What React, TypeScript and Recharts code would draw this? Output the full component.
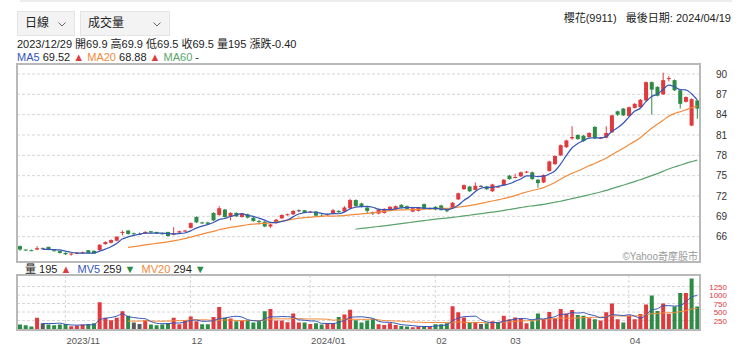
import { ComposedChart, Bar, Line, XAxis, YAxis, CartesianGrid, Cell } from "recharts"

// trading days shown (2023/10/20 .. 2024/04/19)
const DATES = (
  "2023/10/20 2023/10/23 2023/10/24 2023/10/25 2023/10/26 2023/10/27 2023/10/30 2023/10/31 " +
  "2023/11/01 2023/11/02 2023/11/03 2023/11/06 2023/11/07 2023/11/08 2023/11/09 2023/11/10 2023/11/13 2023/11/14 2023/11/15 " +
  "2023/11/16 2023/11/17 2023/11/20 2023/11/21 2023/11/22 2023/11/23 2023/11/24 2023/11/27 2023/11/28 2023/11/29 2023/11/30 " +
  "2023/12/01 2023/12/04 2023/12/05 2023/12/06 2023/12/07 2023/12/08 2023/12/11 2023/12/12 2023/12/13 2023/12/14 2023/12/15 " +
  "2023/12/18 2023/12/19 2023/12/20 2023/12/21 2023/12/22 2023/12/25 2023/12/26 2023/12/27 2023/12/28 2023/12/29 " +
  "2024/01/02 2024/01/03 2024/01/04 2024/01/05 2024/01/08 2024/01/09 2024/01/10 2024/01/11 2024/01/12 2024/01/15 2024/01/16 " +
  "2024/01/17 2024/01/18 2024/01/19 2024/01/22 2024/01/23 2024/01/24 2024/01/25 2024/01/26 2024/01/29 2024/01/30 2024/01/31 " +
  "2024/02/01 2024/02/02 2024/02/05 2024/02/15 2024/02/16 2024/02/19 2024/02/20 2024/02/21 2024/02/22 2024/02/23 2024/02/26 " +
  "2024/02/27 2024/02/29 " +
  "2024/03/01 2024/03/04 2024/03/05 2024/03/06 2024/03/07 2024/03/08 2024/03/11 2024/03/12 2024/03/13 2024/03/14 2024/03/15 " +
  "2024/03/18 2024/03/19 2024/03/20 2024/03/21 2024/03/22 2024/03/25 2024/03/26 2024/03/27 2024/03/28 2024/03/29 " +
  "2024/04/01 2024/04/02 2024/04/03 2024/04/08 2024/04/09 2024/04/10 2024/04/11 2024/04/12 2024/04/15 2024/04/16 2024/04/17 " +
  "2024/04/18 2024/04/19"
).split(" ")

const OPEN = [
  64.6, 64.1, 64.0, 64.1, 64.3, 64.5, 64.0, 63.9, 63.6, 63.4, 63.5, 63.6, 64.0, 63.9, 64.0, 64.9, 65.1, 65.4, 66.6, 66.9,
  66.5, 66.4, 66.5, 66.8, 66.7, 66.5, 66.7, 66.3, 66.6, 66.8, 67.3, 68.9, 68.1, 68.1, 69.5, 69.2, 70.0, 68.9, 69.5, 68.9,
  69.3, 68.8, 68.3, 68.2, 67.5, 68.0, 68.7, 69.2, 69.3, 69.9, 69.9, 69.6, 69.7, 69.1, 69.2, 69.4, 69.8, 69.7, 70.2, 71.4,
  70.9, 70.3, 69.6, 69.4, 69.5, 69.9, 70.0, 70.7, 70.5, 69.7, 69.8, 70.8, 70.2, 70.4, 70.6, 69.9, 70.2, 71.5, 73.0, 73.4,
  72.9, 73.5, 73.4, 72.7, 73.3, 73.6, 75.0, 74.7, 74.9, 75.5, 75.5, 74.4, 74.0, 75.7, 76.7, 78.0, 79.2, 80.5, 81.0, 80.9,
  80.7, 82.2, 80.5, 80.6, 81.4, 84.5, 84.9, 83.8, 85.0, 85.1, 86.1, 88.8, 88.1, 87.0, 89.3, 89.1, 87.6, 85.9, 82.4, 86.1,
]
const HIGH = [
  64.7, 64.1, 64.1, 64.6, 64.4, 64.5, 64.0, 63.9, 63.7, 63.6, 63.7, 63.8, 64.0, 64.0, 64.9, 65.3, 65.6, 66.0, 66.9, 67.0,
  66.6, 66.6, 66.8, 66.8, 66.7, 66.6, 66.7, 67.4, 66.9, 67.0, 68.1, 69.0, 68.2, 68.2, 69.6, 70.5, 70.1, 69.6, 69.6, 69.5,
  69.4, 68.9, 68.5, 68.3, 67.9, 68.6, 69.3, 69.4, 69.9, 70.0, 69.9, 69.8, 69.8, 69.4, 69.4, 70.1, 69.9, 70.5, 71.6, 71.5,
  71.0, 70.4, 69.7, 70.1, 70.2, 70.5, 70.6, 70.8, 70.6, 70.3, 70.4, 70.9, 70.3, 70.5, 70.7, 70.0, 71.1, 72.5, 73.7, 73.5,
  74.0, 73.6, 73.5, 73.8, 73.5, 74.5, 75.1, 75.3, 75.6, 75.7, 75.6, 74.5, 75.2, 77.2, 78.0, 79.6, 80.3, 82.3, 81.1, 81.0,
  81.4, 82.3, 80.7, 82.3, 84.0, 84.6, 85.0, 85.2, 85.7, 86.3, 88.9, 88.9, 88.2, 90.2, 89.7, 89.2, 87.7, 86.7, 86.4, 86.2,
]
const LOW = [
  63.9, 63.9, 63.9, 64.0, 64.2, 64.0, 63.8, 63.5, 63.3, 63.2, 63.4, 63.5, 63.5, 63.5, 63.9, 64.8, 65.0, 65.3, 66.2, 66.3,
  66.3, 66.3, 66.4, 66.5, 66.4, 66.3, 66.0, 66.2, 66.5, 66.7, 67.2, 68.0, 67.9, 67.8, 68.3, 69.1, 68.8, 68.4, 68.9, 68.8,
  68.7, 68.2, 67.8, 67.4, 67.3, 67.9, 68.6, 69.1, 69.2, 69.6, 69.5, 69.5, 69.0, 68.9, 69.1, 69.3, 69.5, 69.6, 70.1, 70.4,
  70.3, 69.4, 69.2, 69.3, 69.4, 69.8, 69.9, 70.2, 70.0, 69.6, 69.7, 70.0, 70.0, 69.9, 69.9, 69.6, 70.1, 71.4, 72.9, 72.6,
  72.8, 73.3, 72.9, 72.6, 73.2, 73.5, 74.4, 74.6, 74.8, 75.4, 74.4, 73.2, 73.9, 75.6, 76.6, 77.9, 79.1, 80.3, 80.3, 80.0,
  80.6, 80.4, 80.4, 80.5, 81.3, 83.8, 83.8, 83.7, 84.9, 85.0, 86.0, 84.0, 86.7, 86.9, 88.9, 87.5, 84.9, 85.8, 82.3, 83.4,
]
const CLOSE = [
  64.1, 64.0, 63.9, 64.3, 64.3, 64.1, 63.9, 63.6, 63.4, 63.5, 63.6, 63.7, 63.6, 63.5, 64.8, 65.2, 65.5, 66.0, 66.7, 66.4,
  66.4, 66.4, 66.7, 66.6, 66.5, 66.4, 66.1, 66.5, 66.8, 66.9, 68.0, 68.1, 68.0, 67.9, 68.4, 70.2, 68.9, 69.5, 69.0, 69.4,
  68.8, 68.3, 68.2, 67.5, 67.8, 68.5, 69.2, 69.3, 69.8, 69.9, 69.5, 69.7, 69.1, 69.0, 69.3, 69.9, 69.6, 70.3, 71.4, 70.5,
  70.4, 69.8, 69.6, 70.0, 70.1, 70.4, 70.5, 70.3, 70.1, 70.2, 70.3, 70.1, 70.2, 70.0, 69.9, 69.8, 71.0, 72.4, 73.6, 72.7,
  73.5, 73.5, 73.0, 73.7, 73.4, 74.4, 74.5, 74.8, 75.5, 75.6, 74.5, 73.9, 75.1, 77.1, 77.9, 79.5, 80.2, 80.7, 80.4, 80.1,
  81.3, 80.5, 80.6, 81.3, 83.9, 84.0, 83.9, 85.1, 85.6, 86.2, 88.8, 87.7, 86.8, 89.1, 89.4, 87.6, 85.6, 86.6, 86.3, 84.9,
]
const VOLUME = [
  130, 110, 70, 330, 170, 130, 110, 130, 150, 80, 100, 130, 150, 170, 790, 330, 260, 330, 520, 390,
  190, 150, 260, 130, 110, 130, 170, 330, 140, 260, 370, 230, 140, 140, 350, 650, 330, 310, 230, 250,
  260, 190, 230, 520, 590, 250, 250, 200, 460, 190, 195, 150, 170, 130, 170, 170, 350, 430, 570, 260,
  190, 250, 300, 140, 120, 170, 120, 90, 70, 50, 70, 90, 70, 140, 140, 170, 670, 490, 340, 190,
  200, 150, 170, 230, 200, 390, 290, 340, 320, 170, 230, 460, 290, 500, 320, 590, 460, 560, 410, 390,
  320, 290, 250, 490, 750, 290, 190, 390, 290, 440, 720, 985, 530, 750, 450, 660, 1060, 1060, 1485, 660,
]

const PRICE_TICKS = [66, 69, 72, 75, 78, 81, 84, 87, 90]
const VOLUME_TICKS = [250, 500, 750, 1000, 1250]
const MONTH_TICKS = ["2023/11/01", "2023/12/01", "2024/01/02", "2024/02/01", "2024/03/01", "2024/04/01"]
const MONTH_LABELS = ["2023/11", "12", "2024/01", "02", "03", "04"]

const STOCK_TITLE = "櫻花(9911)\u00a0\u00a0 最後日期: 2024/04/19"
const INFO_LINE = "2023/12/29 開69.9 高69.9 低69.5 收69.5 量195 漲跌-0.40"

const RED = "#e0393e"
const GREEN = "#2e8b46"
const GRAY = "#5a5a5a"
const BLUE = "#3556b8"
const ORANGE = "#f28a3a"
const MA60_GREEN = "#5aa36c"
const GRID = "#d6d6d6"
const FONT = '"Liberation Sans", "Noto Sans CJK TC", sans-serif'

function movingAvg(values: number[], n: number) {
  return values.map((_, i) => {
    if (i < n - 1) return null
    const win = values.slice(i - n + 1, i + 1)
    return win.reduce((a, b) => a + b, 0) / n
  })
}

const ma5 = movingAvg(CLOSE, 5)
const ma20 = movingAvg(CLOSE, 20)
const ma60 = movingAvg(CLOSE, 60)
const mv5 = movingAvg(VOLUME, 5)
const mv20 = movingAvg(VOLUME, 20)

const data = DATES.map((date, i) => ({
  date,
  open: OPEN[i],
  high: HIGH[i],
  low: LOW[i],
  close: CLOSE[i],
  range: [LOW[i], HIGH[i]],
  volume: VOLUME[i],
  ma5: ma5[i],
  ma20: ma20[i],
  ma60: ma60[i],
  mv5: mv5[i],
  mv20: mv20[i],
}))

// volume colour follows the change against the previous close
const volColor = (i: number) => {
  if (i === 0) return GREEN
  if (CLOSE[i] > CLOSE[i - 1]) return RED
  if (CLOSE[i] < CLOSE[i - 1]) return GREEN
  return GRAY
}

function Candle(props: any) {
  const { x, y, width, height, payload } = props
  const { open, close, high, low } = payload
  const color = close > open ? RED : close < open ? GREEN : GRAY
  const top = Math.min(y, y + height)
  const h = Math.abs(height)
  const cx = x + width / 2
  const per = high === low ? 0 : h / (high - low)
  const yOf = (v: number) => top + (high - v) * per
  const bTop = yOf(Math.max(open, close))
  const bBot = yOf(Math.min(open, close))
  return (
    <g>
      <line x1={cx} x2={cx} y1={top} y2={top + h} stroke={color} strokeWidth={1} />
      <rect x={cx - 2} y={bTop} width={4} height={Math.max(1, bBot - bTop)} fill={color} />
    </g>
  )
}

const PriceTick = ({ x, y, payload }: any) => (
  <text x={x + 19} y={y} dy={3.5} textAnchor="end" fontSize={10} fill="#333" fontFamily={FONT}>
    {payload.value}
  </text>
)

const VolumeTick = ({ x, y, payload }: any) => (
  <text x={x + 19} y={y} dy={3} textAnchor="end" fontSize={8} fill={RED} fontFamily={FONT}>
    {payload.value}
  </text>
)

const MonthTick = ({ x, y, payload }: any) => (
  <text x={x + 1} y={y + 7} textAnchor="start" fontSize={9.5} fill="#555" fontFamily={FONT}>
    {MONTH_LABELS[MONTH_TICKS.indexOf(payload.value)]}
  </text>
)

function Select({ left, width, label }: { left: number; width: number; label: string }) {
  return (
    <div
      style={{
        position: "absolute",
        left,
        top: 11,
        width,
        height: 25,
        background: "#f3f3f3",
        border: "1px solid #e4e4e4",
        boxSizing: "border-box",
      }}
    >
      <span style={{ position: "absolute", left: 7, top: 4, fontSize: 12, lineHeight: "15px", color: "#222" }}>
        {label}
      </span>
      <svg width={8} height={5} style={{ position: "absolute", right: 8, top: 10 }}>
        <polyline points="0.5,0.5 4,4 7.5,0.5" fill="none" stroke="#666" strokeWidth={1} />
      </svg>
    </div>
  )
}

const textLine = { position: "absolute" as const, fontSize: 11, lineHeight: "13px", whiteSpace: "nowrap" as const }

export default function App() {
  return (
    <div
      style={{
        position: "relative",
        width: 740,
        height: 355,
        background: "#fff",
        fontFamily: FONT,
        color: "#222",
        overflow: "hidden",
      }}
    >
      <style>{"body{margin:0}"}</style>
      <div style={{ position: "absolute", left: 20, top: 0, width: 712, height: 2, background: "#ededed" }} />

      <Select left={17} width={58} label="日線" />
      <Select left={80} width={90} label="成交量" />

      <div style={{ ...textLine, right: 9, top: 11.5 }}>{STOCK_TITLE}</div>
      <div style={{ ...textLine, left: 17, top: 38 }}>{INFO_LINE}</div>
      <div style={{ ...textLine, left: 17, top: 51 }}>
        <span style={{ color: BLUE }}>MA5</span> 69.52 <span style={{ color: RED }}>▲</span>{" "}
        <span style={{ color: ORANGE }}>MA20</span> 68.88 <span style={{ color: RED }}>▲</span>{" "}
        <span style={{ color: MA60_GREEN }}>MA60</span> -
      </div>

      {/* price panel */}
      <div style={{ position: "absolute", left: 0, top: 64 }}>
        <ComposedChart width={740} height={198} data={data} margin={{ top: 0, right: 0, bottom: 0, left: 17 }}>
          <CartesianGrid stroke={GRID} strokeDasharray="3 2" />
          <XAxis dataKey="date" ticks={MONTH_TICKS} interval={0} height={0} tick={false} axisLine={false} tickLine={false} />
          <YAxis
            orientation="right"
            width={40}
            domain={[62.26, 91.48]}
            allowDataOverflow
            ticks={PRICE_TICKS}
            interval={0}
            tick={<PriceTick />}
            axisLine={false}
            tickLine={false}
          />
          <Bar dataKey="range" barSize={4} shape={<Candle />} isAnimationActive={false} />
          <Line dataKey="ma60" type="monotone" stroke={MA60_GREEN} strokeWidth={1.2} dot={false} isAnimationActive={false} />
          <Line dataKey="ma20" type="monotone" stroke={ORANGE} strokeWidth={1.2} dot={false} isAnimationActive={false} />
          <Line dataKey="ma5" type="monotone" stroke={BLUE} strokeWidth={1.2} dot={false} isAnimationActive={false} />
        </ComposedChart>
      </div>
      <div
        style={{
          position: "absolute",
          left: 16,
          top: 63,
          width: 685,
          height: 200,
          border: "2px solid #b9b9b9",
          boxSizing: "border-box",
          pointerEvents: "none",
        }}
      />
      <div style={{ position: "absolute", right: 42, top: 251, fontSize: 10, lineHeight: "12px", color: "#999", whiteSpace: "nowrap" }}>
        ©Yahoo奇摩股市
      </div>

      {/* volume legend */}
      <div style={{ ...textLine, left: 25, top: 262.5 }}>
        量 195 <span style={{ color: RED }}>▲</span>{"\u00a0\u00a0"}
        <span style={{ color: BLUE }}>MV5</span> 259 <span style={{ color: GREEN }}>▼</span>{"\u00a0\u00a0"}
        <span style={{ color: ORANGE }}>MV20</span> 294 <span style={{ color: GREEN }}>▼</span>
      </div>

      {/* volume panel */}
      <div style={{ position: "absolute", left: 0, top: 275 }}>
        <ComposedChart width={740} height={80} data={data} margin={{ top: 0, right: 0, bottom: 0, left: 17 }}>
          <CartesianGrid stroke={GRID} strokeDasharray="3 2" />
          <XAxis
            dataKey="date"
            ticks={MONTH_TICKS}
            interval={0}
            height={26}
            tick={<MonthTick />}
            axisLine={false}
            tickLine={false}
          />
          <YAxis
            orientation="right"
            width={40}
            domain={[0, 1590]}
            allowDataOverflow
            ticks={VOLUME_TICKS}
            interval={0}
            tick={<VolumeTick />}
            axisLine={false}
            tickLine={false}
          />
          <Bar dataKey="volume" barSize={4} isAnimationActive={false}>
            {data.map((d, i) => (
              <Cell key={d.date} fill={volColor(i)} />
            ))}
          </Bar>
          <Line dataKey="mv20" type="monotone" stroke={ORANGE} strokeWidth={1} dot={false} isAnimationActive={false} />
          <Line dataKey="mv5" type="monotone" stroke={BLUE} strokeWidth={1} dot={false} isAnimationActive={false} />
        </ComposedChart>
      </div>
      <div
        style={{
          position: "absolute",
          left: 16,
          top: 274,
          width: 685,
          height: 57,
          border: "2px solid #b9b9b9",
          boxSizing: "border-box",
          pointerEvents: "none",
        }}
      />
    </div>
  )
}
